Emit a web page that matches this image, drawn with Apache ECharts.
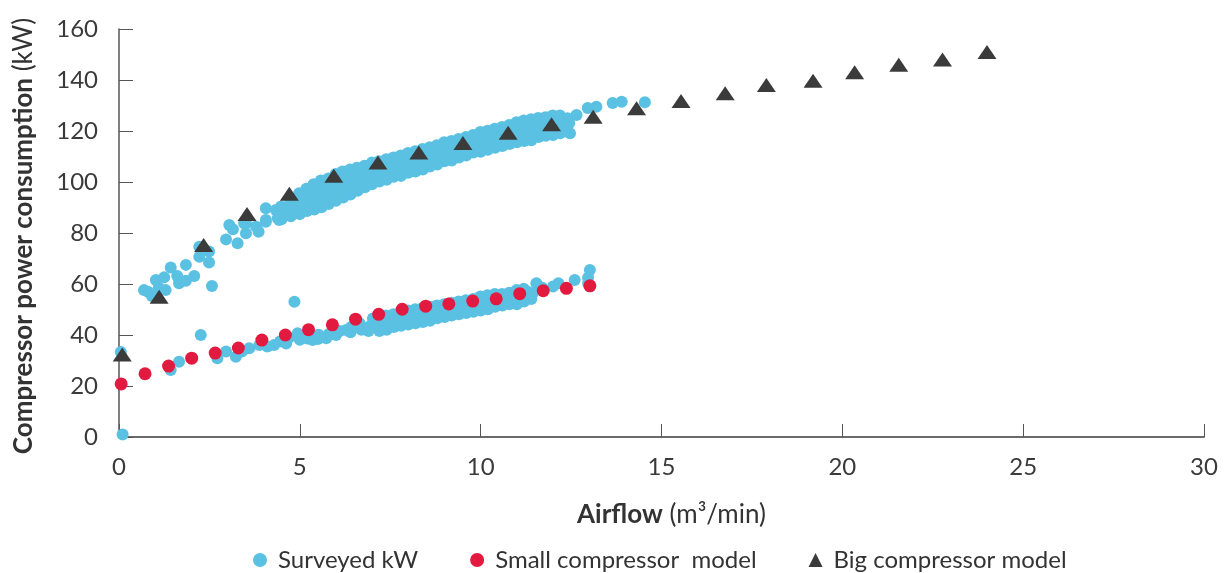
<!DOCTYPE html>
<html>
<head>
<meta charset="utf-8">
<script src="https://cdn.jsdelivr.net/npm/echarts@6/dist/echarts.min.js"></script>
<style>
html,body{margin:0;padding:0;background:#fff;}
#chart{width:1226px;height:573px;}
</style>
</head>
<body>
<div id="chart"></div>
<script>
// ---- Data ----
const xTicks = [0, 5, 10, 15, 20, 25, 30];
const yTicks = [0, 20, 40, 60, 80, 100, 120, 140, 160];

const seriesNames = ['Surveyed kW', 'Small compressor  model', 'Big compressor model'];

// Surveyed kW: [airflow m3/min, kW]
const surveyedUpperEarly = [
  [0.69,57.6],[0.8,57],[0.91,55.3],[1.02,61.6],[1.1,58.5],[1.25,62.6],[1.29,57.6],[1.43,66.5],
  [1.61,63.1],[1.66,60.3],[1.85,67.5],[1.85,61.3],[2.08,63.1],[2.22,70.7],[2.22,74.6],[2.49,72.7],
  [2.49,68.4],[2.57,59.2],[2.96,77.5],[3.05,83.1],[3.15,81.5],[3.28,76],[3.46,83.8],[3.51,79.9],
  [3.51,83.8],[3.79,82.5],[3.86,80.5],[4.06,84.4],[4.06,89.7],[4.06,85.1],[4.39,85.8],[4.34,89],
  [4.43,85.1],[4.66,89],[5.03,91.6]
];
const surveyedUpperMain = [
  [4.5,85.5],[4.52,88.2],[4.48,90.4],[4.75,86.6],[4.77,90.1],[4.73,93.2],[5.0,87.4],[5.02,91.7],[4.98,95.6],
  [5.2,88.6],[5.22,93.1],[5.18,97.4],[5.4,89.2],[5.41,94.4],[5.38,99.1],[5.6,90.1],[5.62,95.8],[5.58,100.6],
  [5.8,91.4],[5.82,97.1],[5.79,101.4],[6.0,92.6],[6.02,98.3],[5.99,103.1],[6.2,93.9],[6.21,99.6],[6.18,104.1],
  [6.4,95.1],[6.42,100.4],[6.39,104.9],[6.6,96.6],[6.61,101.3],[6.58,105.6],[6.8,97.9],[6.82,102.6],[6.79,106.4],
  [7.0,99.1],[7.02,103.4],[6.99,107.6],[7.2,100.2],[7.21,104.3],[7.19,108.1],[7.4,100.9],[7.42,105.2],[7.39,108.9],
  [7.6,102.1],[7.61,106.1],[7.59,109.6],[7.8,102.4],[7.82,106.8],[7.79,110.4],[8.0,103.6],[8.02,107.9],[7.99,111.4],
  [8.2,104.1],[8.21,108.6],[8.19,112.1],[8.4,104.9],[8.42,109.4],[8.39,112.9],[8.6,106.1],[8.61,110.2],[8.59,113.6],
  [8.8,106.9],[8.82,111.1],[8.79,114.4],[9.0,108.1],[9.02,111.9],[8.99,115.6],[9.2,108.4],[9.21,112.6],[9.19,116.1],
  [9.4,109.6],[9.42,113.4],[9.39,116.9],[9.6,110.4],[9.61,114.6],[9.59,117.6],[9.8,111.6],[9.82,115.1],[9.79,118.4],
  [10.0,111.9],[10.02,116.1],[9.99,119.6],[10.2,112.6],[10.21,116.4],[10.19,120.1],[10.4,113.4],[10.42,117.6],[10.39,120.9],
  [10.6,114.1],[10.61,118.1],[10.59,121.6],[10.8,114.9],[10.82,119.1],[10.79,122.4],[11.0,115.6],[11.02,119.4],[10.99,123.4],
  [11.2,116.1],[11.21,120.6],[11.19,124.1],[11.4,116.4],[11.42,121.1],[11.39,124.6],[11.6,117.6],[11.61,121.4],[11.59,125.1],
  [11.8,118.1],[11.82,122.1],[11.79,125.4],[12.0,118.4],[12.02,122.6],[11.99,126.1],[12.2,119.1],[12.21,123.1],[12.19,126.1],
  [12.47,119.1],[12.45,123.1],[12.4,125],[12.65,126.3],[12.96,129],[13.2,129.5],[13.65,131],[13.9,131.5],[14.54,131.3]
];
const surveyedUpperFill = [
  [4.6,87],[4.6,89.5],[4.85,88.5],[4.85,92],[5.1,89.5],[5.1,94],[5.3,91],[5.3,96],[5.5,92],[5.5,97.5],
  [5.7,93.5],[5.7,99],[5.9,95],[5.9,100.5],[6.1,96],[6.1,101.5],[6.3,97],[6.3,102],[6.5,98],[6.5,103],
  [6.7,99.5],[6.7,104.5],[6.9,101],[6.9,105.5],[7.1,102],[7.1,106],[7.3,102.5],[7.3,106.5],[7.5,103.5],[7.5,107.5],
  [7.7,104.5],[7.7,108.5],[7.9,105.5],[7.9,109.5],[8.1,106],[8.1,110],[8.3,106.5],[8.3,111],[8.5,107.5],[8.5,111.5],
  [8.7,108.5],[8.7,112.5],[8.9,109.5],[8.9,113.5],[9.1,110],[9.1,114],[9.3,111],[9.3,115],[9.5,112],[9.5,116],
  [9.7,113],[9.7,117],[9.9,113.5],[9.9,117.5],[10.1,114],[10.1,118],[10.3,115],[10.3,119],[10.5,116],[10.5,119.5],
  [10.7,116.5],[10.7,120.5],[10.9,117.5],[10.9,121.5],[11.1,118],[11.1,122],[11.3,118.5],[11.3,122.5],[11.5,119],[11.5,123],
  [11.7,120],[11.7,123.5],[11.9,120.5],[11.9,124],[12.1,121],[12.1,124.5],[12.3,121],[12.3,124.5]
];
const surveyedLower = [
  [0.1,1],[0.05,33.3],[1.43,26.3],[1.66,29.5],[2.26,40],[4.85,53],[2.72,30.9],[2.96,33.5],[3.23,31.5],
  [3.4,33.5],[3.6,34.8],[3.88,36.1],[4.1,35.5],[4.29,36.1],[4.45,37.5],[4.62,36.7],[4.7,38.9],[4.94,40.7],
  [5.0,38.1],[5.2,38.6],[5.35,38],[5.5,38.4],[5.52,40.1],[5.73,38.7],[5.8,40.4],[6.0,40],[6.1,41.6],
  [6.28,42],[6.4,41.1],[6.42,43.1],[6.65,44.6],[6.7,42.1],[6.93,43.3],[6.9,41.6],[7.02,46.5],
  [7.2,41.6],[7.21,44.6],[7.19,47.1],[7.4,42.1],[7.42,45.4],[7.39,47.6],[7.6,43.1],[7.61,46.1],[7.59,48.1],
  [7.8,43.6],[7.82,46.4],[7.79,49.1],[8.0,44.1],[8.02,47.1],[7.99,49.6],[8.2,44.6],[8.21,47.6],[8.19,50.1],
  [8.4,45.1],[8.42,48.1],[8.39,50.6],[8.6,45.6],[8.61,48.4],[8.59,51.1],[8.8,46.6],[8.82,49.1],[8.79,51.6],
  [9.0,47.1],[9.02,49.6],[8.99,52.1],[9.2,47.6],[9.21,50.1],[9.19,52.6],[9.4,48.1],[9.42,50.6],[9.39,53.1],
  [9.6,48.6],[9.61,51.4],[9.59,53.6],[9.8,49.1],[9.82,52.1],[9.79,54.1],[10.0,49.6],[10.02,52.6],[9.99,55.1],
  [10.2,50.1],[10.21,53.1],[10.19,55.6],[10.4,51.1],[10.42,53.6],[10.39,56.1],[10.6,51.6],[10.61,54.1],[10.59,56.1],
  [10.8,52.1],[10.82,54.6],[10.79,56.6],[11.0,52.1],[11.02,55.1],[10.99,57.6],[11.2,53.1],[11.21,55.6],[11.19,58.1],
  [11.4,54.1],[11.44,56.4],[11.54,60.3],[11.7,58.5],[12.0,59],[12.15,60.3],[12.6,61.6],[12.97,60.3],[12.97,62.5],[13.02,65.5]
];
const surveyedLowerFill = [
  [7.3,43],[7.3,46],[7.5,44],[7.5,47],[7.7,44.5],[7.7,47.5],[7.9,45.5],[7.9,48],[8.1,46],[8.1,48.5],
  [8.3,46.5],[8.3,49],[8.5,47],[8.5,49.5],[8.7,47.5],[8.7,50.5],[8.9,48],[8.9,51],[9.1,48.5],[9.1,51],
  [9.3,49],[9.3,51.5],[9.5,50],[9.5,52.5],[9.7,50.5],[9.7,53],[9.9,51],[9.9,53.5],[10.1,51.5],[10.1,54],
  [10.3,52],[10.3,54.5],[10.5,52.5],[10.5,55],[10.7,53],[10.7,55.5],[10.9,53.5],[10.9,56],[11.1,54],[11.1,56.5],
  [11.3,54.5],[11.3,57]
];

// Small compressor model
const smallX = [0.06,0.72,1.37,2.01,2.66,3.3,3.95,4.6,5.24,5.9,6.54,7.18,7.83,8.48,9.12,9.78,10.43,11.08,11.73,12.37,13.02];
const smallY = [20.8,24.8,27.8,30.9,32.9,34.9,38.0,40.0,42.1,44.0,46.2,48.1,50.1,51.3,52.2,53.3,54.2,56.2,57.4,58.3,59.3];

// Big compressor model
const bigX = [0.09,1.11,2.34,3.54,4.71,5.94,7.16,8.29,9.51,10.76,11.96,13.11,14.31,15.54,16.76,17.9,19.19,20.34,21.56,22.77,24.0];
const bigY = [32.4,55.0,75.3,87.5,95.4,102.5,107.6,111.6,115.3,119.3,122.6,125.6,128.9,131.8,134.8,138.0,139.7,143.0,146.0,148.0,151.0];

// ---- Chart ----
const FONT = 'Lato';
const zip = (a, b) => a.map((v, i) => [v, b[i]]);
const surveyed = surveyedUpperEarly.concat(surveyedUpperMain, surveyedUpperFill, surveyedLower, surveyedLowerFill);

const chart = echarts.init(document.getElementById('chart'), null, {renderer: 'canvas'});
chart.setOption({
  animation: false,
  backgroundColor: '#ffffff',
  textStyle: {fontFamily: FONT},
  grid: {left: 119, right: 22, top: 29, bottom: 136, containLabel: false},
  xAxis: {
    type: 'value', min: 0, max: 30, interval: 5,
    axisLine: {show: true, lineStyle: {color: '#6b6b6b', width: 2}},
    axisTick: {show: true, inside: true, length: 13, lineStyle: {color: '#555', width: 1}},
    splitLine: {show: false},
    axisLabel: {color: '#3a3a3a', fontSize: 24, margin: 18, fontFamily: FONT,
      formatter: v => xTicks.includes(v) ? String(v) : ''},
    name: '{b|Airflow}{n|\u00a0(m³/min)}',
    nameLocation: 'middle', nameGap: 65,
    nameTextStyle: {padding: [0, 0, 0, 20], rich: {
      b: {fontWeight: 'bold', fontSize: 26, color: '#333', fontFamily: FONT},
      n: {fontSize: 26, color: '#333', fontFamily: FONT}
    }}
  },
  yAxis: {
    type: 'value', min: 0, max: 160, interval: 20,
    axisLine: {show: true, lineStyle: {color: '#555', width: 1.5}},
    axisTick: {show: true, inside: true, length: 14, lineStyle: {color: '#555', width: 1}},
    splitLine: {show: false},
    axisLabel: {color: '#3a3a3a', fontSize: 24, margin: 21, fontFamily: FONT,
      formatter: v => yTicks.includes(v) ? String(v) : ''},
    name: '{b|Compressor power consumption}{n|\u00a0(kW)}',
    nameLocation: 'middle', nameGap: 82, nameRotate: 90,
    nameTextStyle: {padding: [0, 6, 0, 0], rich: {
      b: {fontWeight: 'bold', fontSize: 26, color: '#333', fontFamily: FONT},
      n: {fontSize: 26, color: '#333', fontFamily: FONT}
    }}
  },
  legend: {
    top: 548, left: 253, padding: 0, itemGap: 52, itemWidth: 14, itemHeight: 14,
    textStyle: {fontSize: 24, color: '#333', fontFamily: FONT, padding: [0, 0, 0, 6]},
    data: [
      {name: seriesNames[0], icon: 'circle'},
      {name: seriesNames[1], icon: 'circle'},
      {name: seriesNames[2], icon: 'triangle'}
    ]
  },
  series: [
    {name: seriesNames[0], type: 'scatter', data: surveyed, symbol: 'circle', symbolSize: 12,
      itemStyle: {color: '#5BC1E3', opacity: 1}, z: 2},
    {name: seriesNames[1], type: 'scatter', data: zip(smallX, smallY), symbol: 'circle', symbolSize: 13,
      itemStyle: {color: '#E31A40', opacity: 1}, z: 3},
    {name: seriesNames[2], type: 'scatter', data: zip(bigX, bigY), symbol: 'triangle', symbolSize: [19, 14],
      itemStyle: {color: '#3b3b3b', opacity: 1}, z: 4}
  ]
});
</script>
</body>
</html>
